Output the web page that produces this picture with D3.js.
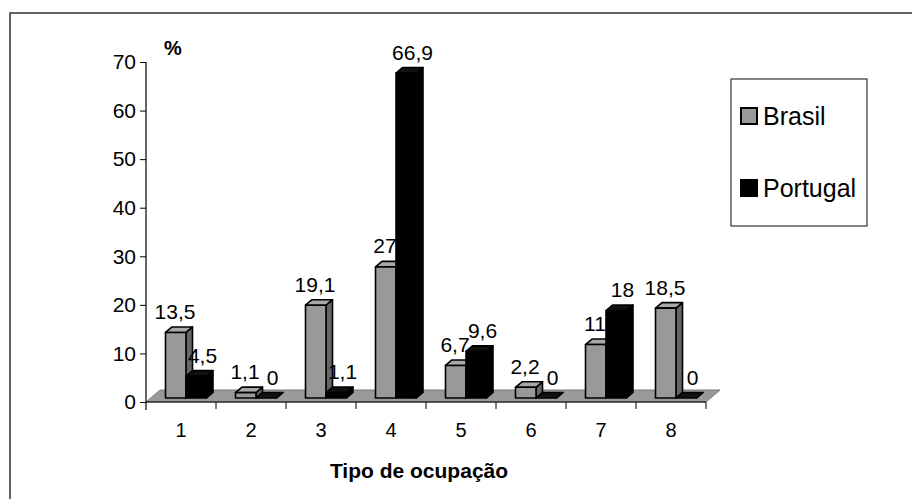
<!DOCTYPE html>
<html>
<head>
<meta charset="utf-8">
<script src="https://cdn.jsdelivr.net/npm/d3@7/dist/d3.min.js"></script>
<style>
  html, body { margin: 0; padding: 0; background: #fff; }
  svg { display: block; }
  text { font-family: "Liberation Sans", Arial, sans-serif; fill: #000; }
</style>
</head>
<body>
<script>
// Occupation types and the share (%) of each group per type
const categories = ["1", "2", "3", "4", "5", "6", "7", "8"];
const seriesNames = ["Brasil", "Portugal"];
const brasil = [13.5, 1.1, 19.1, 27, 6.7, 2.2, 11, 18.5];
const portugal = [4.5, 0, 1.1, 66.9, 9.6, 0, 18, 0];
const yTicks = [0, 10, 20, 30, 40, 50, 60, 70];
const labelFmt = v => String(v).replace(".", ",");

const W = 912, H = 499;
const svg = d3.select("body").append("svg").attr("width", W).attr("height", H);

// outer frame (right and bottom edges fall outside the page)
svg.append("rect").attr("x", 10).attr("y", 13).attr("width", 920).attr("height", 520)
  .attr("fill", "none").attr("stroke", "#333").attr("stroke-width", 1.5);

const x = d3.scaleBand().domain(categories).range([146, 706]);
const xs = d3.scaleBand().domain(seriesNames).range([14.5, 55.5]);
const y = d3.scaleLinear().domain([0, 70]).range([402, 62]);

// 3-D projection parameters
const floorDx = 14, floorDy = -12;   // depth of the floor
const baseDx = 5, baseDy = -4;       // where bars stand inside the floor depth
const barDx = 6.5, barDy = -5.5;     // bar depth

// floor
const x0 = x.range()[0], x1 = x.range()[1], y0 = y(0);
svg.append("polygon")
  .attr("points", [[x0, y0], [x1, y0], [x1 + floorDx, y0 + floorDy], [x0 + floorDx, y0 + floorDy]].join(" "))
  .attr("fill", "#999").attr("stroke", "#7a7a7a").attr("stroke-width", 1);

// y axis
const yAxis = d3.axisLeft(y).tickValues(yTicks).tickSize(6).tickPadding(4);
const gy = svg.append("g").attr("transform", `translate(${x0},0)`).call(yAxis);
gy.select(".domain").remove();
gy.selectAll(".tick line").attr("stroke", "#000");
gy.selectAll(".tick text").attr("font-size", 21).attr("font-family", "Liberation Sans, Arial, sans-serif");
svg.append("line").attr("x1", x0).attr("x2", x0).attr("y1", y(70)).attr("y2", y0 + 8)
  .attr("stroke", "#000").attr("stroke-width", 1.2);

// x axis along the front edge of the floor, ticks at category boundaries
const gx = svg.append("g").attr("transform", `translate(0,${y0})`);
gx.append("line").attr("x1", x0).attr("x2", x1).attr("stroke", "#000").attr("stroke-width", 1.2);
categories.forEach((c, i) => {
  if (i > 0) gx.append("line").attr("x1", x(c)).attr("x2", x(c)).attr("y1", 0).attr("y2", 7).attr("stroke", "#000");
});
gx.append("line").attr("x1", x1).attr("x2", x1).attr("y1", 0).attr("y2", 7).attr("stroke", "#000");
gx.selectAll("text.cat").data(categories).join("text").attr("class", "cat")
  .attr("x", d => x(d) + x.bandwidth() / 2).attr("y", 35)
  .attr("text-anchor", "middle").attr("font-size", 20).text(d => d);

// axis titles
svg.append("text").attr("x", 173).attr("y", 55).attr("text-anchor", "middle")
  .attr("font-size", 20).attr("font-weight", "bold").text("%");
svg.append("text").attr("x", 419).attr("y", 478).attr("text-anchor", "middle")
  .attr("font-size", 21).attr("font-weight", "bold").text("Tipo de ocupação");

// bars
const styles = {
  Brasil: { front: "#999999", side: "#666666", top: "#a8a8a8", stroke: "#000", labelShift: -4 },
  Portugal: { front: "#000", side: "#000", top: "#111", stroke: "#000", labelShift: 3 }
};
const rows = categories.map((c, i) => ({ cat: c, values: [
  { name: "Brasil", v: brasil[i] }, { name: "Portugal", v: portugal[i] }] }));

const bars = svg.append("g");
rows.forEach(r => {
  r.values.forEach(d => {
    const s = styles[d.name];
    const bx = x(r.cat) + xs(d.name) + baseDx;
    const w = xs.bandwidth();
    const yb = y(0) + baseDy, yt = y(d.v) + baseDy;
    const g = bars.append("g").attr("stroke", s.stroke).attr("stroke-width", 1.6).attr("stroke-linejoin", "round");
    g.append("polygon").attr("fill", s.side)
      .attr("points", [[bx + w, yt], [bx + w + barDx, yt + barDy], [bx + w + barDx, yb + barDy], [bx + w, yb]].join(" "));
    g.append("polygon").attr("fill", s.top)
      .attr("points", [[bx, yt], [bx + barDx, yt + barDy], [bx + w + barDx, yt + barDy], [bx + w, yt]].join(" "));
    g.append("rect").attr("fill", s.front).attr("x", bx).attr("y", yt).attr("width", w).attr("height", yb - yt);
    d.labelX = bx + (w + barDx) / 2 + s.labelShift;
    d.labelY = yt + barDy - 8;
  });
});

// value labels
rows.forEach(r => r.values.forEach(d => {
  svg.append("text").attr("x", d.labelX).attr("y", d.labelY).attr("text-anchor", "middle")
    .attr("font-size", 21).text(labelFmt(d.v));
}));

// legend
const lg = svg.append("g").attr("transform", "translate(731,79)");
lg.append("rect").attr("width", 136).attr("height", 147).attr("fill", "#fff")
  .attr("stroke", "#333").attr("stroke-width", 1.2);
seriesNames.forEach((n, i) => {
  const cy = 37 + i * 72;
  lg.append("rect").attr("x", 10).attr("y", cy - 8).attr("width", 16).attr("height", 16)
    .attr("fill", styles[n].front).attr("stroke", "#000").attr("stroke-width", 2);
  lg.append("text").attr("x", 32).attr("y", cy + 9).attr("font-size", 25).text(n);
});
</script>
</body>
</html>
